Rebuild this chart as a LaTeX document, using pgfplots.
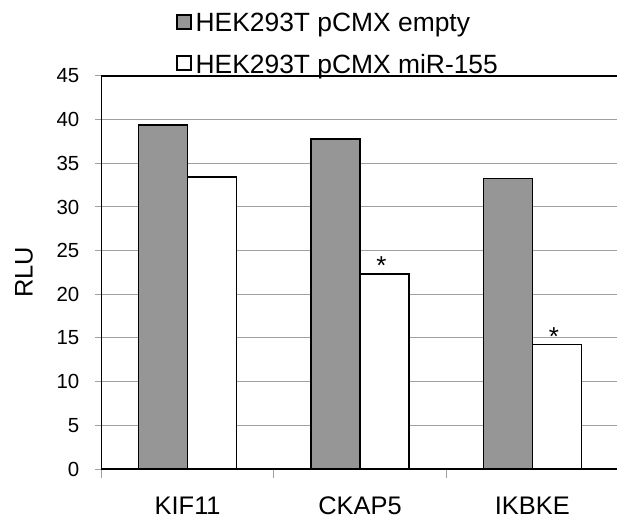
\documentclass[border=0pt]{standalone}
\usepackage{pgfplots}
\pgfplotsset{compat=1.18}
\usepackage{pgfplotstable}
\usepackage{fontspec}
\setmainfont{Liberation Sans}
\definecolor{barfill}{HTML}{969696}
\definecolor{gridc}{HTML}{A0A0A0}
\pgfplotstableread{
x y
0.5 39.4
1.5 37.8
2.5 33.25
}\tabempty
\pgfplotstableread{
x y s
0.5 33.45 {}
1.5 22.35 *
2.5 14.25 *
}\tabmir
\begin{document}
\begin{tikzpicture}
\begin{axis}[
  at={(101.5bp,53bp)}, anchor=south west,
  scale only axis, width=517bp, height=393bp,
  xmin=0, xmax=3, ymin=0, ymax=45,
  enlargelimits=false,
  ybar=0pt, bar width=49bp,
  axis line style={black, line width=1.8bp},
  xtick={0,1,2,3}, x tick label as interval,
  xticklabels={KIF11,CKAP5,IKBKE},
  ytick={0,5,...,45},
  xtick pos=lower, ytick pos=left,
  tick align=outside,
  major tick length=6bp,
  x tick style={gridc, line width=1bp, /pgfplots/major tick length=9bp},
  y tick style={gridc, line width=1bp},
  ymajorgrids, major grid style={gridc, line width=1bp},
  /pgf/number format/assume math mode=true,
  yticklabel style={font=\fontsize{20.5}{24}\selectfont, anchor=east, inner sep=0pt, xshift=-16bp},
  xticklabel style={font=\fontsize{25.5}{30}\selectfont, anchor=north, inner sep=0pt, yshift=-22bp},
  ylabel={RLU},
  ylabel style={font=\fontsize{25.5}{30}\selectfont, at={(axis description cs:-0.1331,0.5)}, anchor=base, inner sep=0pt},
  legend style={at={(axis description cs:0.1442,1.003)}, anchor=south west,
    draw=none, fill=none, inner sep=0pt, outer sep=0pt,
    row sep=21bp, column sep=4bp,
    font=\fontsize{26.5}{30}\selectfont, nodes={inner sep=0pt}},
  legend cell align=left,
  legend image code/.code={\draw[#1] (0bp,-5.5bp) rectangle (14bp,8.5bp);},
]
\addplot[fill=barfill, draw=black, line width=1.6bp] table[x=x, y=y] {\tabempty};
\addlegendentry{HEK293T pCMX empty}
\addplot[fill=white, draw=black, line width=1.6bp,
  nodes near coords, point meta=explicit symbolic,
  every node near coord/.append style={font=\fontsize{26}{28}\selectfont, anchor=base, inner sep=0pt, xshift=-3bp, yshift=-1bp, black}]
  table[x=x, y=y, meta=s] {\tabmir};
\addlegendentry{HEK293T pCMX miR-155}
\end{axis}
\pgfresetboundingbox
\path[use as bounding box] (0,0) rectangle (617bp,522bp);
\end{tikzpicture}
\end{document}
